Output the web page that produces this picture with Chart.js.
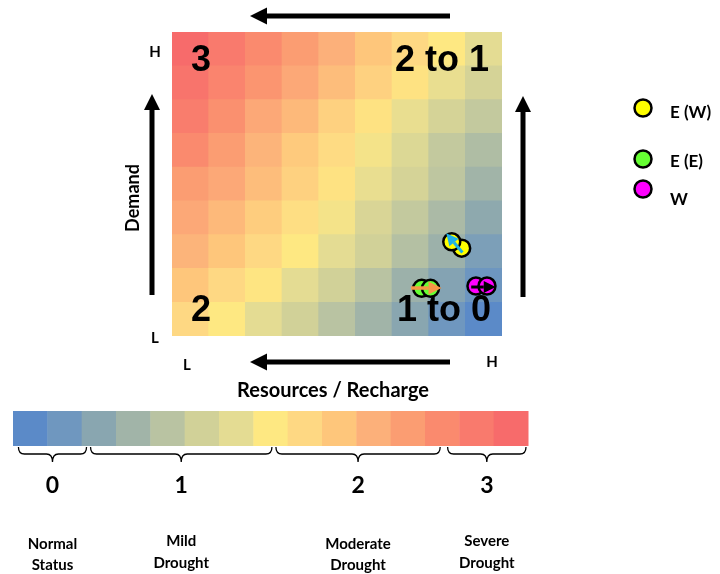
<!DOCTYPE html>
<html>
<head>
<meta charset="utf-8">
<script src="https://cdn.jsdelivr.net/npm/chart.js@4.4.1/dist/chart.umd.min.js"></script>
<style>
  html, body { margin: 0; padding: 0; background: #ffffff; }
  #wrap { width: 720px; height: 574px; position: relative; }
</style>
</head>
<body>
<div id="wrap"><canvas id="drought_chart"></canvas></div>
<script>
// Resources / Recharge classes along the x-axis (L -> H)
var columns = ['1', '2', '3', '4', '5', '6', '7', '8', '9'];

// Drought score of each cell, 0 = normal (blue) ... 14 = severe (red)
// one array per demand row, from low demand (bottom) to high demand (top)
var demandRow1 = [8, 7, 6, 5, 4, 3, 2, 1, 0];
var demandRow2 = [9, 8, 7.2, 6, 5, 4, 2.8, 1.8, 0.9];
var demandRow3 = [9.8, 9, 8, 7, 6, 5, 3.8, 2.8, 1.5];
var demandRow4 = [10.4, 9.6, 8.6, 7.6, 6.6, 5.4, 4.4, 3.4, 2.2];
var demandRow5 = [11, 10.4, 9.4, 8.4, 7.4, 6.2, 5.2, 4.2, 3];
var demandRow6 = [12, 11, 9.8, 8.8, 7.8, 6.6, 5.6, 4.4, 3.6];
var demandRow7 = [12.8, 11.7, 10.4, 9.6, 8.4, 7.4, 6.2, 5.2, 4.4];
var demandRow8 = [13.4, 12.4, 11.4, 10.4, 9.4, 8.4, 7.4, 6.2, 5.2];
var demandRow9 = [14, 13, 12, 11, 10, 9, 8, 7, 6];

// Colour scale used for the cells and the bar underneath
var scaleColors = ['#5b8ac8', '#6f97bf', '#89a6b0', '#a1b4a8', '#b9c3a2', '#d1d198', '#e4dc93',
                   '#fee882', '#fed883', '#fec67b', '#fcb07a', '#fb9d72', '#fa8a6e', '#f97a6d', '#f76b6b'];

// Sites (x = resource class, y = demand class, grid units)
var ewX = [7.40, 7.13];
var ewY = [2.60, 2.79];
var eeX = [6.31, 6.55];
var eeY = [1.41, 1.41];
var wX = [7.79, 8.09];
var wY = [1.48, 1.48];

// Shift arrows between the two points of each site
var arrowFromX = [7.42, 6.02, 7.66];
var arrowFromY = [2.47, 1.42, 1.45];
var arrowToX = [6.98, 6.85, 8.33];
var arrowToY = [3.04, 1.42, 1.45];
var arrowColors = ['#1fb0e6', '#f79646', '#000000'];

// Drought classes below the colour bar
var classNumbers = ['0', '1', '2', '3'];
var classNames = [['Normal', 'Status'], ['Mild', 'Drought'], ['Moderate', 'Drought'], ['Severe', 'Drought']];
var classFrom = [0.1, 2.2, 7.6, 12.6];
var classTo = [2.2, 7.6, 12.5, 15];

var rows = [demandRow1, demandRow2, demandRow3, demandRow4, demandRow5,
            demandRow6, demandRow7, demandRow8, demandRow9];

function hexToRgb(h) {
    return [parseInt(h.substr(1, 2), 16), parseInt(h.substr(3, 2), 16), parseInt(h.substr(5, 2), 16)];
}

function scoreColor(v) {
    var i = Math.min(Math.floor(v), scaleColors.length - 2);
    var t = v - i;
    var a = hexToRgb(scaleColors[i]);
    var b = hexToRgb(scaleColors[i + 1]);
    var c = a.map(function (n, k) { return Math.round(n + (b[k] - n) * t); });
    return 'rgb(' + c.join(',') + ')';
}

var datasets = rows.map(function (row) {
    return {
        type: 'bar',
        data: row.map(function () { return 1; }),
        backgroundColor: row.map(scoreColor),
        borderWidth: 0,
        barPercentage: 1,
        categoryPercentage: 1,
        grouped: false,
        order: 1
    };
});

function pts(xs, ys) {
    return xs.map(function (x, i) { return { x: x, y: ys[i] }; });
}

var sites = [
    { label: 'E (W)', data: pts(ewX, ewY), color: '#ffff00' },
    { label: 'E (E)', data: pts(eeX, eeY), color: '#66ff33' },
    { label: 'W', data: pts(wX, wY), color: '#ff00ff' }
];

sites.forEach(function (s) {
    datasets.push({
        type: 'scatter',
        label: s.label,
        data: s.data,
        xAxisID: 'xp',
        yAxisID: 'yp',
        backgroundColor: s.color,
        borderColor: '#000000',
        borderWidth: 2.5,
        pointRadius: 8.5,
        order: 0
    });
});

function arrow(ctx, x1, y1, x2, y2, lw, hl, hw, color) {
    var ang = Math.atan2(y2 - y1, x2 - x1);
    var bx = x2 - Math.cos(ang) * hl;
    var by = y2 - Math.sin(ang) * hl;
    ctx.save();
    ctx.strokeStyle = color;
    ctx.fillStyle = color;
    ctx.lineWidth = lw;
    ctx.beginPath();
    ctx.moveTo(x1, y1);
    ctx.lineTo(bx, by);
    ctx.stroke();
    ctx.beginPath();
    ctx.moveTo(x2, y2);
    ctx.lineTo(bx + Math.sin(ang) * hw / 2, by - Math.cos(ang) * hw / 2);
    ctx.lineTo(bx - Math.sin(ang) * hw / 2, by + Math.cos(ang) * hw / 2);
    ctx.closePath();
    ctx.fill();
    ctx.restore();
}

function text(ctx, s, x, y, font, align) {
    ctx.font = font;
    ctx.textAlign = align || 'center';
    ctx.textBaseline = 'middle';
    ctx.fillStyle = '#000000';
    ctx.fillText(s, x, y);
}

var decor = {
    id: 'decor',
    afterDatasetDraw: function (chart, args) {
        if (args.index !== 0) return;
        // quadrant labels, drawn over the cells but under the points
        var a = chart.chartArea;
        var ctx = chart.ctx;
        ctx.save();
        ctx.font = 'bold 36px "Liberation Sans", Arial, sans-serif';
        ctx.fillStyle = '#000000';
        ctx.textBaseline = 'alphabetic';
        ctx.textAlign = 'left';
        ctx.fillText('3', a.left + 19, a.top + 39);
        ctx.fillText('2 to 1', a.left + 223, a.top + 39);
        ctx.fillText('2', a.left + 19, a.top + 289);
        ctx.fillText('1 to 0', a.left + 225, a.top + 289);
        ctx.restore();
    },
    afterDatasetsDraw: function (chart) {
        var xs = chart.scales.xp, ys = chart.scales.yp;
        for (var i = 0; i < arrowFromX.length; i++) {
            var lw = i === 1 ? 3.5 : 3;
            var hs = i === 1 ? 13 : 12;
            arrow(chart.ctx, xs.getPixelForValue(arrowFromX[i]), ys.getPixelForValue(arrowFromY[i]),
                  xs.getPixelForValue(arrowToX[i]), ys.getPixelForValue(arrowToY[i]),
                  lw, hs, hs, arrowColors[i]);
        }
    },
    afterDraw: function (chart) {
        var ctx = chart.ctx;
        var a = chart.chartArea;
        var lab = 'bold 15px Lato, sans-serif';

        // big direction arrows
        arrow(ctx, a.right - 52, a.top - 16, a.left + 78, a.top - 16, 5, 17, 17, '#000');
        arrow(ctx, a.right - 52, a.bottom + 26, a.left + 78, a.bottom + 26, 5, 17, 17, '#000');
        arrow(ctx, a.left - 20, a.bottom - 41, a.left - 20, a.top + 62, 5, 16, 16, '#000');
        arrow(ctx, a.right + 21, a.bottom - 39, a.right + 21, a.top + 64, 5, 16, 16, '#000');

        // axis ends and titles
        text(ctx, 'H', a.left - 17, a.top + 20, lab);
        text(ctx, 'L', a.left - 17, a.bottom + 2, lab);
        text(ctx, 'L', a.left + 15, a.bottom + 29, lab);
        text(ctx, 'H', a.right - 10, a.bottom + 26, lab);
        text(ctx, 'Resources / Recharge', (a.left + a.right) / 2 - 4, a.bottom + 55, 'bold 20px Lato, sans-serif');
        ctx.save();
        ctx.translate(a.left - 39, a.top + 166);
        ctx.rotate(-Math.PI / 2);
        text(ctx, 'Demand', 0, 0, 'bold 18px Lato, sans-serif');
        ctx.restore();

        // legend
        var ly = [108, 159, 189];
        var ty = [113, 162, 200];
        chart.data.datasets.forEach(function (ds) {
            if (ds.type !== 'scatter') return;
            var k = sites.findIndex(function (s) { return s.label === ds.label; });
            ctx.save();
            ctx.beginPath();
            ctx.arc(643, ly[k], 8.5, 0, Math.PI * 2);
            ctx.fillStyle = ds.backgroundColor;
            ctx.fill();
            ctx.lineWidth = 2.5;
            ctx.strokeStyle = '#000';
            ctx.stroke();
            ctx.restore();
            text(ctx, ds.label, 670, ty[k], 'bold 17px Lato, sans-serif', 'left');
        });

        // colour bar
        var bx = 13, bw = 515, by = 411, bh = 35;
        var cw = bw / scaleColors.length;
        scaleColors.forEach(function (c, i) {
            ctx.fillStyle = c;
            ctx.fillRect(bx + i * cw, by, cw + 0.5, bh);
        });

        // braces and classes
        classNumbers.forEach(function (n, i) {
            var x1 = bx + classFrom[i] * cw + 2, x2 = bx + classTo[i] * cw - 2;
            var xm = (x1 + x2) / 2;
            var yt = by + bh + 1, yl = yt + 7, yb = yt + 15;
            ctx.save();
            ctx.strokeStyle = '#000';
            ctx.lineWidth = 1.3;
            ctx.beginPath();
            ctx.moveTo(x1, yt);
            ctx.quadraticCurveTo(x1, yl, x1 + 6, yl);
            ctx.lineTo(xm - 6, yl);
            ctx.quadraticCurveTo(xm, yl, xm, yb);
            ctx.quadraticCurveTo(xm, yl, xm + 6, yl);
            ctx.lineTo(x2 - 6, yl);
            ctx.quadraticCurveTo(x2, yl, x2, yt);
            ctx.stroke();
            ctx.restore();
            text(ctx, n, xm, 486, 'bold 23px Lato, sans-serif');
            text(ctx, classNames[i][0], xm, i % 2 ? 541 : 544, 'bold 15px Lato, sans-serif');
            text(ctx, classNames[i][1], xm, i % 2 ? 563 : 565, 'bold 15px Lato, sans-serif');
        });
    }
};

var ctx = document.getElementById('drought_chart');
var myChart = new Chart(ctx, {
    type: 'bar',
    data: {
        labels: columns,
        datasets: datasets
    },
    options: {
        responsive: true,
        maintainAspectRatio: false,
        animation: false,
        layout: { padding: { left: 172, right: 218, top: 32, bottom: 238 } },
        plugins: {
            legend: { display: false },
            tooltip: { enabled: false }
        },
        scales: {
            x: { display: false, stacked: true, offset: true, grid: { display: false } },
            y: { display: false, stacked: true, min: 0, max: 9 },
            xp: { type: 'linear', display: false, offset: false, min: -0.5, max: 8.5 },
            yp: { type: 'linear', display: false, offset: false, min: 0, max: 9 }
        }
    },
    plugins: [decor]
});
</script>
</body>
</html>
